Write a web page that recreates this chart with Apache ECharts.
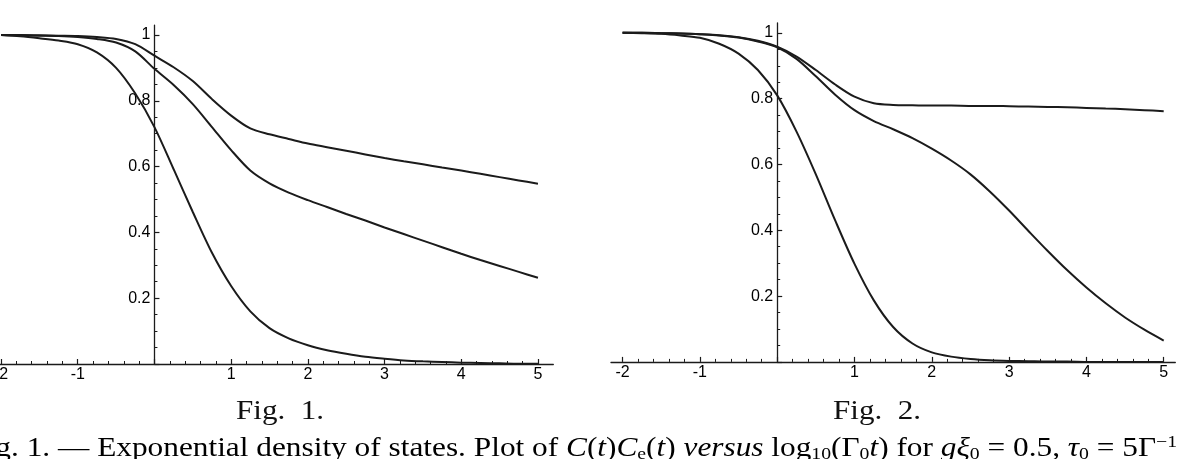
<!DOCTYPE html>
<html>
<head>
<meta charset="utf-8">
<title>Fig. 1 / Fig. 2</title>
<script src="https://cdn.jsdelivr.net/npm/echarts@6/dist/echarts.min.js"></script>
<style>
  html, body { margin: 0; padding: 0; background: #fff; }
  #chart { width: 1180px; height: 459px; }
</style>
</head>
<body>
<div id="chart"></div>
<script>
// x = log10(Γ0 t), 공통 샘플 위치 (0.25 간격)
const xs = [-2, -1.75, -1.5, -1.25, -1, -0.75, -0.5, -0.25, 0, 0.25, 0.5, 0.75, 1, 1.25, 1.5, 1.75,
  2, 2.25, 2.5, 2.75, 3, 3.25, 3.5, 3.75, 4, 4.25, 4.5, 4.75, 5];

// Fig. 1 (exponential density of states)
const fig1Top = [1.0, 1.0, 0.999, 0.998, 0.997, 0.994, 0.988, 0.972, 0.937, 0.902, 0.86, 0.805, 0.755, 0.716, 0.698, 0.684,
  0.670, 0.659, 0.648, 0.637, 0.626, 0.616, 0.607, 0.597, 0.588, 0.578, 0.568, 0.558, 0.548];
const fig1Middle = [1.0, 0.999, 0.998, 0.997, 0.994, 0.988, 0.977, 0.95, 0.897, 0.848, 0.79, 0.72, 0.65, 0.588, 0.549, 0.521,
  0.498, 0.477, 0.456, 0.436, 0.415, 0.395, 0.375, 0.355, 0.335, 0.316, 0.298, 0.28, 0.262];
const fig1Bottom = [1.0, 0.996, 0.99, 0.983, 0.972, 0.947, 0.9, 0.822, 0.72, 0.592, 0.462, 0.338, 0.237, 0.16, 0.109, 0.078,
  0.057, 0.042, 0.031, 0.022, 0.016, 0.011, 0.008, 0.006, 0.004, 0.003, 0.002, 0.001, 0.001];

// Fig. 2
const fig2Top = [1.0, 1.0, 0.999, 0.998, 0.996, 0.993, 0.987, 0.976, 0.958, 0.928, 0.887, 0.843, 0.806, 0.786, 0.781, 0.780,
  0.779, 0.779, 0.778, 0.778, 0.777, 0.776, 0.775, 0.774, 0.772, 0.770, 0.768, 0.765, 0.762];
const fig2Middle = [1.0, 1.0, 0.999, 0.998, 0.996, 0.992, 0.986, 0.974, 0.956, 0.921, 0.868, 0.812, 0.765, 0.732, 0.707, 0.68,
  0.648, 0.612, 0.57, 0.518, 0.46, 0.398, 0.337, 0.279, 0.226, 0.178, 0.135, 0.098, 0.065];
const fig2Bottom = [1.0, 0.999, 0.997, 0.992, 0.985, 0.967, 0.937, 0.887, 0.81, 0.70, 0.57, 0.43, 0.298, 0.187, 0.106, 0.056,
  0.029, 0.016, 0.009, 0.005, 0.003, 0.002, 0.001, 0.001, 0, 0, 0, 0, 0];

// 눈금 위치와 라벨
const xTickValues = [-2, -1, 0, 1, 2, 3, 4, 5];
const xLabelValues = [-2, -1, 1, 2, 3, 4, 5];
const yTickValues = [0, 0.2, 0.4, 0.6, 0.8, 1];
const yLabelValues = [0.2, 0.4, 0.6, 0.8, 1];

const INK = '#1b1b1b';
const LABEL_FONT = '"Liberation Sans", Arial, sans-serif';
const SERIF = '"Liberation Serif", "Times New Roman", serif';

// 패널 배치 (x 범위는 축선이 -2, 5 밖으로 조금 나가도록)
const panels = [
  { left: -14.3, top: 25.1, width: 567.6, height: 338.9, xMin: -2.2, xMax: 5.2 },
  { left: 611, top: 23, width: 564.3, height: 338.9, xMin: -2.15, xMax: 5.15 }
];

const pairs = (ys) => xs.map((x, i) => [x, ys[i]]);

const makeXAxis = (p, gridIndex) => ({
  type: 'value',
  gridIndex,
  min: p.xMin,
  max: p.xMax,
  splitNumber: 7,
  axisLine: { show: true, onZero: true, lineStyle: { color: INK, width: 1.3 } },
  axisTick: { show: true, inside: true, length: 5, customValues: xTickValues, lineStyle: { color: INK, width: 1.2 } },
  minorTick: { show: true, splitNumber: 5, length: 3, lineStyle: { color: INK, width: 1 } },
  axisLabel: {
    customValues: xLabelValues,
    margin: 3,
    fontFamily: LABEL_FONT,
    fontSize: 16,
    color: '#000'
  },
  splitLine: { show: false }
});

// y축은 x = 0 위치로 옮김 (라벨까지 같이 움직이도록 offset 사용)
const makeYAxis = (p, gridIndex) => ({
  type: 'value',
  gridIndex,
  position: 'left',
  offset: -((0 - p.xMin) / (p.xMax - p.xMin)) * p.width,
  min: 0,
  max: 1.03,
  splitNumber: 5,
  axisLine: { show: true, onZero: false, lineStyle: { color: INK, width: 1.3 } },
  axisTick: { show: true, inside: true, length: 5, customValues: yTickValues, lineStyle: { color: INK, width: 1.2 } },
  minorTick: { show: true, splitNumber: 4, length: 3, lineStyle: { color: INK, width: 1 } },
  axisLabel: {
    customValues: yLabelValues,
    margin: 4,
    fontFamily: LABEL_FONT,
    fontSize: 16,
    color: '#000',
    formatter: (v) => (v === 1 ? '1' : v.toFixed(1))
  },
  splitLine: { show: false }
});

const makeSeries = (ys, idx) => ({
  type: 'line',
  xAxisIndex: idx,
  yAxisIndex: idx,
  data: pairs(ys),
  smooth: 0.3,
  showSymbol: false,
  silent: true,
  lineStyle: { color: INK, width: 2 }
});

const captionRich = {
  r: { fontFamily: SERIF, fontSize: 27, color: '#111' },
  i: { fontFamily: SERIF, fontSize: 27, fontStyle: 'italic', color: '#111' },
  sub: { fontFamily: SERIF, fontSize: 17, color: '#111', padding: [12, 0, 0, 0] },
  sup: { fontFamily: SERIF, fontSize: 17, color: '#111', padding: [0, 0, 12, 0] }
};

const captionText =
  '{r|Fig. 1. — Exponential density of states. Plot of }{i|C}{r|(}{i|t}{r|)}{i|C}{sub|e}{r|(}{i|t}{r|) }' +
  '{i|versus}{r| log}{sub|10}{r|(Γ}{sub|0}{i|t}{r|) for }{i|gξ}{sub|0}{r| = 0.5, }{i|τ}{sub|0}{r| = 5Γ}{sup|−1}';

const chart = echarts.init(document.getElementById('chart'), null, { renderer: 'canvas' });

chart.setOption({
  animation: false,
  backgroundColor: '#fff',
  grid: panels.map((p) => ({
    left: p.left, top: p.top, width: p.width, height: p.height,
    containLabel: false,
    outerBoundsMode: 'none'
  })),
  xAxis: panels.map(makeXAxis),
  yAxis: panels.map(makeYAxis),
  series: [
    makeSeries(fig1Top, 0),
    makeSeries(fig1Middle, 0),
    makeSeries(fig1Bottom, 0),
    makeSeries(fig2Top, 1),
    makeSeries(fig2Middle, 1),
    makeSeries(fig2Bottom, 1)
  ],
  graphic: [
    {
      type: 'text', x: 280, y: 412, scaleX: 1.15,
      style: { text: 'Fig.  1.', fontFamily: SERIF, fontSize: 27, fill: '#111', align: 'center', verticalAlign: 'middle' }
    },
    {
      type: 'text', x: 877, y: 412, scaleX: 1.15,
      style: { text: 'Fig.  2.', fontFamily: SERIF, fontSize: 27, fill: '#111', align: 'center', verticalAlign: 'middle' }
    },
    {
      type: 'text', x: 1177, y: 449, scaleX: 1.16,
      style: { text: captionText, rich: captionRich, align: 'right', verticalAlign: 'middle' }
    }
  ]
});
</script>
</body>
</html>
